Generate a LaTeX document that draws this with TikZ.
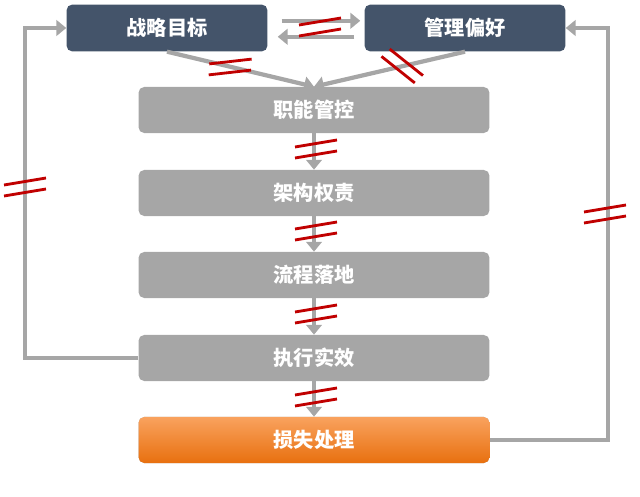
\documentclass[tikz,border=0pt]{standalone}
\usepackage{fontspec}
\newfontfamily\cjk{Noto Sans CJK SC}
\usetikzlibrary{arrows.meta}
\definecolor{navy}{HTML}{44546A}
\definecolor{lightgray}{HTML}{A6A6A6}
\definecolor{marker}{HTML}{C00000}
\definecolor{orangetop}{HTML}{F9A25E}
\definecolor{orangebot}{HTML}{E8700F}
\begin{document}
\begin{tikzpicture}[x=0.025cm,y=-0.025cm,
    topbox/.style={rectangle, rounded corners=4pt, fill=navy, text=white, minimum width=5.02cm, minimum height=1.17cm, font=\cjk\bfseries\Large},
    stepbox/.style={rectangle, rounded corners=4pt, fill=lightgray, text=white, minimum width=8.77cm, minimum height=1.15cm, font=\cjk\bfseries\Large},
    lossbox/.style={stepbox, top color=orangetop, bottom color=orangebot},
    flow/.style={-{Triangle[width=11pt,length=7pt]}, line width=3pt, lightgray},
    loop/.style={-{Triangle[width=11pt,length=7pt]}, line width=3pt, lightgray},
    cut/.pic={\draw[marker, line width=2pt] (-21,-5) -- (21,-12);
              \draw[marker, line width=2pt] (-21,6) -- (21,-1);}]
    \useasboundingbox (0,0) rectangle (640,497);

    % boxes
    \node[topbox] (goal) at (167,28) {战略目标};
    \node[topbox] (pref) at (465,28) {管理偏好};
    \node[stepbox] (func) at (314,110) {职能管控};
    \node[stepbox] (arch) at (314,193) {架构权责};
    \node[stepbox] (proc) at (314,275) {流程落地};
    \node[stepbox] (exec) at (314,358) {执行实效};
    \node[lossbox] (loss) at (314,440) {损失处理};

    % arrows
    \draw[flow] ([xshift=0.35cm,yshift=0.18cm]goal.east) -- ([xshift=-0.1cm,yshift=0.18cm]pref.west);
    \draw[flow] ([xshift=-0.25cm,yshift=-0.22cm]pref.west) -- ([xshift=0.25cm,yshift=-0.22cm]goal.east);
    \draw[flow] (goal.south) -- (func.north);
    \draw[flow] (pref.south) -- (func.north);
    \draw[flow] (func) -- (arch);
    \draw[flow] (arch) -- (proc);
    \draw[flow] (proc) -- (exec);
    \draw[flow] (exec) -- (loss);
    \draw[loop] (exec.west) -| (25,28) -- (goal.west);
    \draw[loop] (loss.east) -| (608,28) -- (pref.east);

    % marks
    \pic at (320,30) {cut};
    \pic[rotate=-3] at (230,70) {cut};
    \pic[rotate=-48] at (400,68) {cut};
    \pic at (316,152) {cut};
    \pic at (316,234) {cut};
    \pic at (316,317) {cut};
    \pic at (316,400) {cut};
    \pic at (25,190) {cut};
    \pic at (605,217) {cut};
\end{tikzpicture}
\end{document}
